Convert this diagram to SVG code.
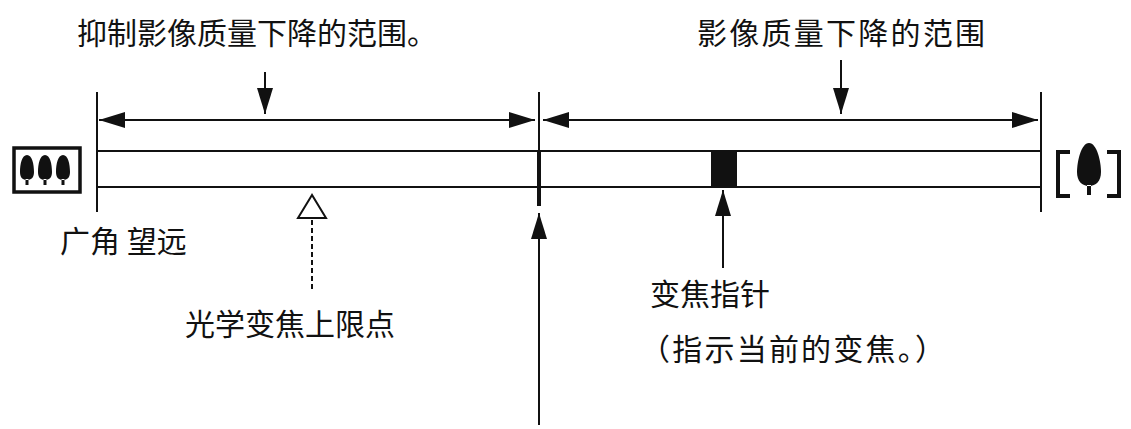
<svg xmlns="http://www.w3.org/2000/svg" width="1131" height="429" viewBox="0 0 1131 429">
<style>
text{font-family:"Noto Sans CJK SC","Noto Sans",sans-serif;font-size:30px;fill:#111}
.l{stroke:#111;stroke-width:2;fill:none}
</style>
<defs>
<marker id="b" viewBox="0 0 10 10" refX="10" refY="5" markerWidth="26" markerHeight="16" markerUnits="userSpaceOnUse" orient="auto-start-reverse" preserveAspectRatio="none"><path d="M0,0L10,5L0,10z" fill="#111"/></marker>
<path id="tree" d="M0,-15C-5,-15-7,-6-7,2C-7,8-4,10 0,10C4,10 7,8 7,2C7,-6 5,-15 0,-15Z M-1.5,9h3v6h-3z" fill="#111"/>
</defs>
<g id="bar"><rect x="97" y="151" width="944" height="36" fill="#fff" stroke="#111" stroke-width="2"/></g>
<g id="connectors">
<line class="l" x1="97" y1="92" x2="97" y2="212"/>
<line class="l" x1="539" y1="92" x2="539" y2="150"/>
<line class="l" x1="1041" y1="92" x2="1041" y2="212"/>
<line class="l" x1="99" y1="120" x2="535" y2="120" marker-start="url(#b)" marker-end="url(#b)"/>
<line class="l" x1="543" y1="120" x2="1038" y2="120" marker-start="url(#b)" marker-end="url(#b)"/>
<line class="l" x1="265" y1="72" x2="265" y2="114" marker-end="url(#b)"/>
<line class="l" x1="841" y1="60" x2="841" y2="114" marker-end="url(#b)"/>
<line x1="539" y1="151" x2="539" y2="206" stroke="#111" stroke-width="4"/>
<line class="l" x1="539" y1="425" x2="539" y2="213" marker-end="url(#b)"/>
<line class="l" x1="723" y1="268" x2="723" y2="190" marker-end="url(#b)"/>
<line class="l" x1="312" y1="220" x2="312" y2="292" stroke-dasharray="5,3"/>
</g>
<g id="pointer"><rect x="711" y="152" width="26" height="35" fill="#111"/></g>
<g id="limit"><polygon points="312,195 298,218 326,218" fill="#fff" stroke="#111" stroke-width="2"/></g>
<g id="wide-icon"><rect x="14" y="148" width="66" height="44" fill="#fff" stroke="#111" stroke-width="3.5"/>
<use href="#tree" x="27" y="170"/><use href="#tree" x="45" y="170"/><use href="#tree" x="63" y="170"/></g>
<g id="tele-icon"><path d="M1070,152h-12v44h12M1107,152h12v44h-12" fill="none" stroke="#111" stroke-width="4"/>
<path d="M1089,143C1081,143 1077,162 1077,172C1077,181 1082,186 1089,186C1096,186 1101,181 1101,172C1101,162 1097,143 1089,143Z M1087,185h4v10h-4z" fill="#111"/></g>
<g id="labels">
<text x="77" y="44">抑制影像质量下降的范围。</text>
<text x="697" y="44" textLength="288">影像质量下降的范围</text>
<text x="60" y="252">广角 望远</text>
<text x="185" y="335">光学变焦上限点</text>
<text x="650" y="305">变焦指针</text>
<text x="640" y="360" textLength="305">（指示当前的变焦。）</text>
</g>
</svg>
